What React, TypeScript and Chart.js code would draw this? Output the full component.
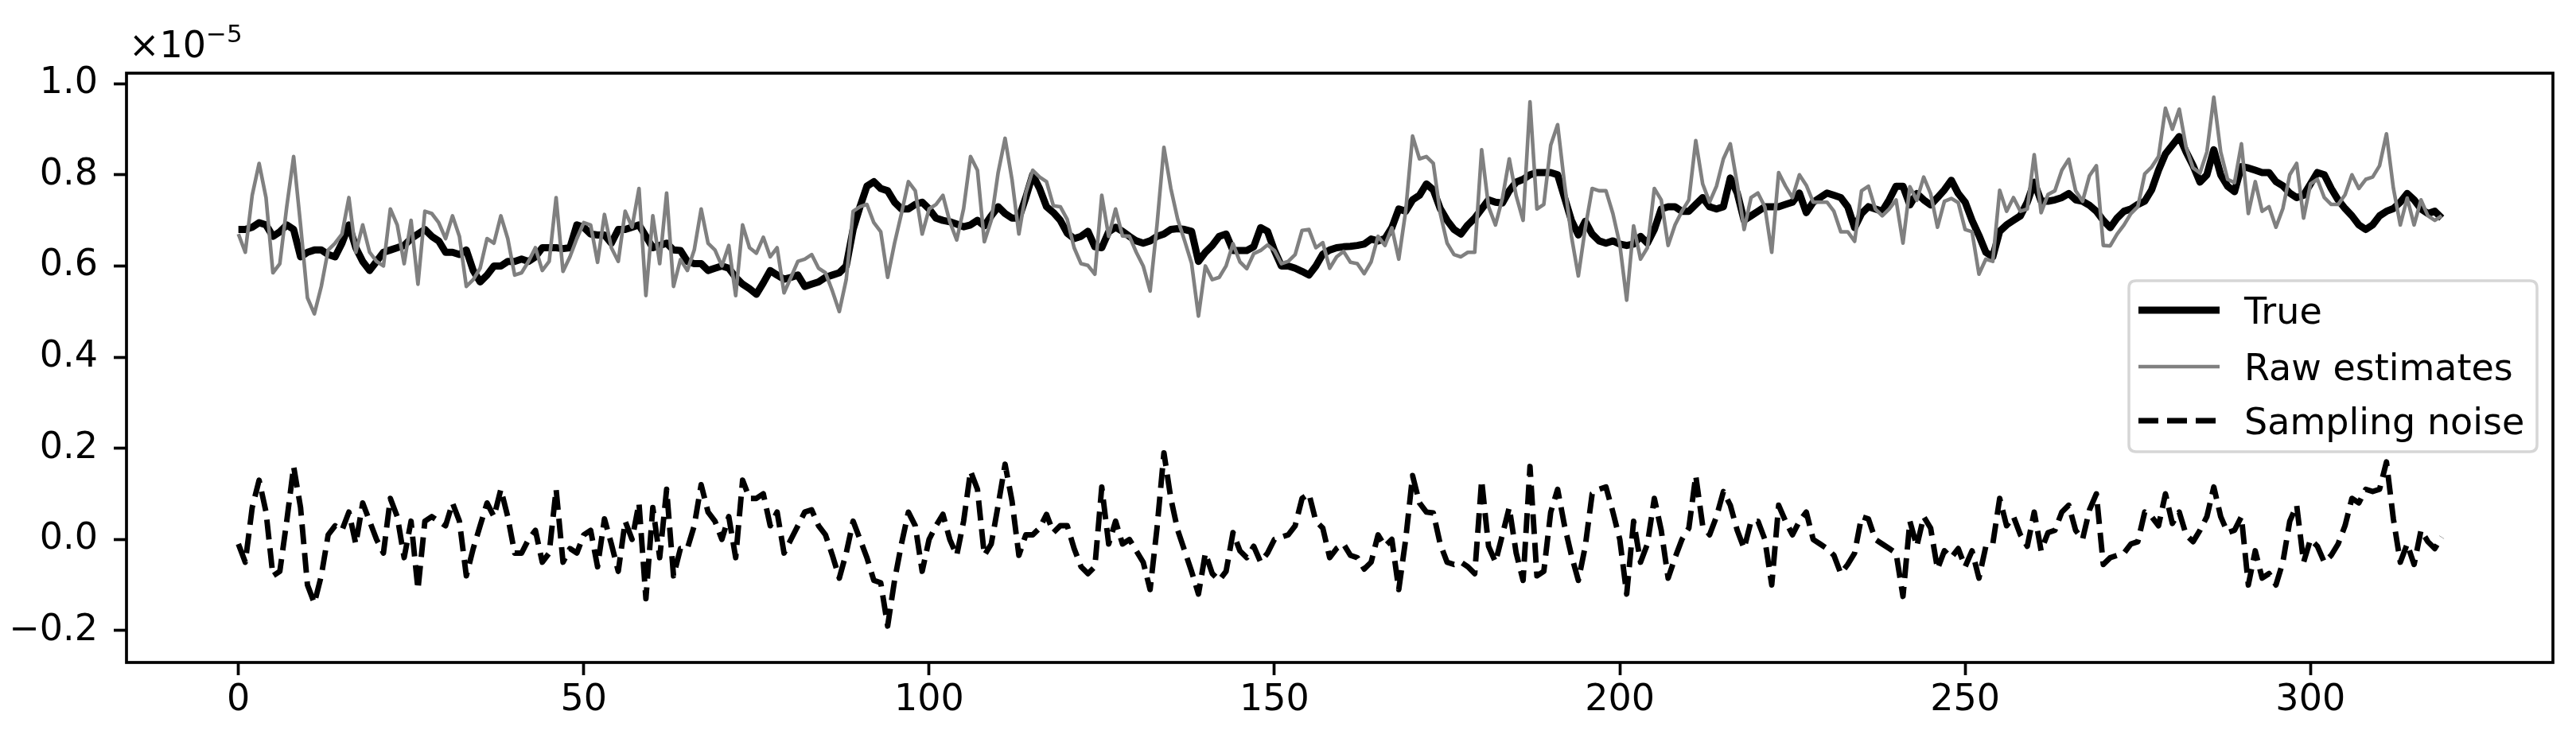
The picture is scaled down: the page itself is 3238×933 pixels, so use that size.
import React, { useEffect, useRef } from "react";
import { Chart, registerables } from "chart.js";

Chart.register(...registerables);

const W = 3238;
const H = 933;

// values in units of 1e-5
const trueVals = [
  0.68, 0.68, 0.685, 0.695, 0.69, 0.665, 0.675, 0.69, 0.68, 0.62,
  0.63, 0.635, 0.635, 0.625, 0.62, 0.65, 0.69, 0.64, 0.61, 0.59,
  0.61, 0.63, 0.635, 0.64, 0.645, 0.66, 0.67, 0.68, 0.665, 0.655,
  0.63, 0.63, 0.625, 0.635, 0.59, 0.565, 0.58, 0.6, 0.6, 0.61,
  0.61, 0.615, 0.61, 0.62, 0.64, 0.64, 0.64, 0.638, 0.64, 0.69,
  0.685, 0.67, 0.668, 0.668, 0.65, 0.68, 0.68, 0.685, 0.69, 0.665,
  0.64, 0.645, 0.65, 0.635, 0.634, 0.61, 0.605, 0.605, 0.59, 0.595,
  0.6, 0.595, 0.575, 0.56, 0.55, 0.538, 0.563, 0.59, 0.58, 0.571,
  0.575, 0.58, 0.555, 0.56, 0.565, 0.575, 0.58, 0.585, 0.6, 0.68,
  0.73, 0.775, 0.785, 0.77, 0.765, 0.74, 0.725, 0.725, 0.735, 0.74,
  0.725, 0.705, 0.7, 0.697, 0.692, 0.686, 0.69, 0.7, 0.688, 0.71,
  0.73, 0.715, 0.705, 0.705, 0.75, 0.8, 0.77, 0.73, 0.717, 0.7,
  0.672, 0.66, 0.665, 0.676, 0.642, 0.64, 0.675, 0.685, 0.676, 0.665,
  0.655, 0.65, 0.655, 0.665, 0.67, 0.68, 0.682, 0.68, 0.676, 0.61,
  0.63, 0.645, 0.665, 0.67, 0.634, 0.634, 0.634, 0.642, 0.684, 0.676,
  0.634, 0.6, 0.6, 0.595, 0.588, 0.58, 0.6, 0.626, 0.635, 0.64,
  0.642, 0.643, 0.645, 0.648, 0.659, 0.655, 0.66, 0.684, 0.725, 0.72,
  0.745, 0.755, 0.78, 0.767, 0.726, 0.7, 0.68, 0.67, 0.69, 0.705,
  0.725, 0.745, 0.74, 0.738, 0.765, 0.784, 0.79, 0.8, 0.805, 0.805,
  0.805, 0.8, 0.75, 0.7, 0.668, 0.698, 0.67, 0.655, 0.65, 0.655,
  0.648, 0.645, 0.648, 0.665, 0.65, 0.68, 0.725, 0.73, 0.73, 0.72,
  0.72, 0.735, 0.75, 0.73, 0.725, 0.73, 0.793, 0.76, 0.7, 0.71,
  0.72, 0.73, 0.73, 0.73, 0.735, 0.74, 0.76, 0.717, 0.74, 0.75,
  0.76, 0.755, 0.75, 0.73, 0.684, 0.715, 0.73, 0.725, 0.72, 0.745,
  0.775, 0.775, 0.734, 0.759, 0.745, 0.734, 0.75, 0.767, 0.788, 0.759,
  0.74, 0.7, 0.667, 0.63, 0.62, 0.676, 0.69, 0.7, 0.71, 0.74,
  0.784, 0.742, 0.742, 0.745, 0.75, 0.759, 0.745, 0.742, 0.733, 0.72,
  0.7, 0.684, 0.705, 0.72, 0.725, 0.735, 0.742, 0.767, 0.81, 0.846,
  0.865, 0.884, 0.85, 0.82, 0.784, 0.8, 0.855, 0.8, 0.775, 0.763,
  0.818, 0.815, 0.81, 0.805, 0.805, 0.785, 0.776, 0.76, 0.75, 0.755,
  0.78, 0.805, 0.8, 0.77, 0.745, 0.726, 0.71, 0.69, 0.68, 0.69,
  0.71, 0.72, 0.726, 0.74, 0.759, 0.745, 0.725, 0.715, 0.72, 0.705,
];

const rawVals = [
  0.67, 0.63, 0.755, 0.825, 0.75, 0.585, 0.605, 0.73, 0.84, 0.69,
  0.53, 0.495, 0.555, 0.635, 0.65, 0.67, 0.75, 0.63, 0.69, 0.63,
  0.61, 0.6, 0.725, 0.69, 0.605, 0.7, 0.56, 0.72, 0.715, 0.695,
  0.66, 0.71, 0.665, 0.555, 0.57, 0.595, 0.66, 0.65, 0.71, 0.66,
  0.58, 0.585, 0.61, 0.64, 0.59, 0.61, 0.75, 0.588, 0.62, 0.66,
  0.695, 0.69, 0.608, 0.713, 0.64, 0.61, 0.72, 0.685, 0.77, 0.535,
  0.71, 0.605, 0.76, 0.555, 0.614, 0.59, 0.635, 0.725, 0.65, 0.635,
  0.6, 0.645, 0.535, 0.69, 0.64, 0.628, 0.663, 0.62, 0.64, 0.541,
  0.575, 0.61, 0.615, 0.625, 0.595, 0.585, 0.545, 0.5, 0.57, 0.72,
  0.73, 0.735, 0.695, 0.675, 0.575, 0.65, 0.715, 0.785, 0.765, 0.67,
  0.725, 0.735, 0.755, 0.697, 0.657, 0.726, 0.84, 0.81, 0.653, 0.7,
  0.805, 0.88, 0.79, 0.67, 0.76, 0.81, 0.795, 0.785, 0.732, 0.73,
  0.702, 0.64, 0.605, 0.601, 0.582, 0.755, 0.665, 0.725, 0.666, 0.665,
  0.63, 0.6, 0.545, 0.69, 0.86, 0.77, 0.702, 0.655, 0.606, 0.49,
  0.6, 0.57, 0.575, 0.6, 0.649, 0.609, 0.594, 0.627, 0.634, 0.646,
  0.634, 0.605, 0.61, 0.625, 0.678, 0.68, 0.64, 0.651, 0.595, 0.62,
  0.632, 0.608, 0.605, 0.583, 0.609, 0.665, 0.645, 0.684, 0.615, 0.72,
  0.885, 0.835, 0.84, 0.825, 0.716, 0.65, 0.625, 0.62, 0.63, 0.63,
  0.855, 0.73, 0.69, 0.748, 0.835, 0.754, 0.7, 0.96, 0.725, 0.735,
  0.865, 0.91, 0.78, 0.665, 0.578, 0.683, 0.77, 0.765, 0.765, 0.715,
  0.648, 0.525, 0.688, 0.615, 0.64, 0.77, 0.745, 0.645, 0.69, 0.72,
  0.745, 0.875, 0.78, 0.74, 0.775, 0.835, 0.868, 0.78, 0.68, 0.75,
  0.76, 0.73, 0.63, 0.805, 0.775, 0.75, 0.8, 0.777, 0.74, 0.74,
  0.74, 0.72, 0.675, 0.675, 0.654, 0.765, 0.775, 0.725, 0.71, 0.725,
  0.745, 0.65, 0.774, 0.744, 0.795, 0.759, 0.685, 0.742, 0.748, 0.739,
  0.68, 0.675, 0.582, 0.615, 0.61, 0.766, 0.72, 0.75, 0.72, 0.725,
  0.844, 0.717, 0.757, 0.765, 0.81, 0.834, 0.765, 0.742, 0.798, 0.82,
  0.645, 0.644, 0.67, 0.69, 0.715, 0.73, 0.802, 0.817, 0.84, 0.946,
  0.9, 0.944, 0.86, 0.815, 0.804, 0.85, 0.97, 0.85, 0.79, 0.783,
  0.868, 0.715, 0.785, 0.72, 0.73, 0.685, 0.726, 0.8, 0.825, 0.705,
  0.78, 0.79, 0.75, 0.735, 0.735, 0.756, 0.8, 0.77, 0.79, 0.795,
  0.82, 0.89, 0.771, 0.69, 0.749, 0.69, 0.745, 0.71, 0.7, 0.71,
];

const noiseVals = [
  -0.01, -0.05, 0.07, 0.13, 0.06, -0.08, -0.07, 0.04, 0.16, 0.07,
  -0.1, -0.14, -0.08, 0.01, 0.03, 0.02, 0.06, -0.01, 0.08, 0.04,
  0.0, -0.03, 0.09, 0.05, -0.04, 0.04, -0.11, 0.04, 0.05, 0.04,
  0.03, 0.08, 0.04, -0.08, -0.02, 0.03, 0.08, 0.05, 0.11, 0.05,
  -0.03, -0.03, 0.0, 0.02, -0.05, -0.03, 0.11, -0.05, -0.02, -0.03,
  0.01, 0.02, -0.06, 0.045, -0.01, -0.07, 0.04, 0.0, 0.08, -0.13,
  0.07, -0.04, 0.11, -0.08, -0.02, -0.02, 0.03, 0.12, 0.06, 0.04,
  0.0, 0.05, -0.04, 0.13, 0.09, 0.09, 0.1, 0.03, 0.06, -0.03,
  0.0, 0.03, 0.06, 0.065, 0.03, 0.01, -0.035, -0.085, -0.03, 0.04,
  0.0, -0.04, -0.09, -0.095, -0.19, -0.09, -0.01, 0.06, 0.03, -0.07,
  0.0, 0.03, 0.055, 0.0, -0.035, 0.04, 0.15, 0.11, -0.035, -0.01,
  0.075, 0.165, 0.085, -0.035, 0.01, 0.01, 0.025, 0.055, 0.015, 0.03,
  0.03, -0.02, -0.06, -0.075, -0.06, 0.115, -0.01, 0.04, -0.01, 0.0,
  -0.025, -0.05, -0.11, 0.025, 0.19, 0.09, 0.02, -0.025, -0.07, -0.12,
  -0.03, -0.075, -0.09, -0.07, 0.015, -0.025, -0.04, -0.015, -0.05, -0.03,
  0.0, 0.005, 0.01, 0.03, 0.09, 0.1, 0.04, 0.025, -0.04, -0.02,
  -0.01, -0.035, -0.04, -0.065, -0.05, 0.01, -0.015, 0.0, -0.11, 0.0,
  0.14, 0.08, 0.06, 0.058, -0.01, -0.05, -0.055, -0.05, -0.06, -0.075,
  0.13, -0.015, -0.05, 0.01, 0.07, -0.03, -0.09, 0.16, -0.08, -0.07,
  0.06, 0.11, 0.03, -0.035, -0.09, -0.015, 0.1, 0.11, 0.115, 0.06,
  0.0, -0.12, 0.04, -0.05, -0.01, 0.09, 0.02, -0.085, -0.04, 0.0,
  0.025, 0.14, 0.03, 0.01, 0.05, 0.105, 0.075, 0.02, -0.02, 0.04,
  0.04, 0.0, -0.1, 0.075, 0.04, 0.01, 0.04, 0.06, 0.0, -0.01,
  -0.02, -0.035, -0.075, -0.055, -0.03, 0.05, 0.045, 0.0, -0.01, -0.02,
  -0.03, -0.125, 0.04, -0.015, 0.05, 0.025, -0.065, -0.025, -0.04, -0.02,
  -0.06, -0.025, -0.085, -0.015, -0.01, 0.09, 0.03, 0.05, 0.01, -0.015,
  0.06, -0.025, 0.015, 0.02, 0.06, 0.075, 0.02, 0.0, 0.065, 0.1,
  -0.055, -0.04, -0.035, -0.03, -0.01, -0.005, 0.06, 0.05, 0.03, 0.1,
  0.035, 0.06, 0.01, -0.005, 0.02, 0.05, 0.115, 0.05, 0.015, 0.02,
  0.05, -0.1, -0.025, -0.085, -0.075, -0.1, -0.05, 0.04, 0.075, -0.05,
  0.0, -0.015, -0.05, -0.035, -0.01, 0.03, 0.09, 0.08, 0.11, 0.105,
  0.11, 0.17, 0.045, -0.05, -0.01, -0.055, 0.02, -0.005, -0.02, 0.005,
];

const xTicks = [0, 50, 100, 150, 200, 250, 300];
const yTicks = [-0.2, 0.0, 0.2, 0.4, 0.6, 0.8, 1.0];
const seriesLabels = ["True", "Raw estimates", "Sampling noise"];
const offsetBase = "×10";
const offsetExp = "−5";

const FONT = "DejaVu Sans";
const TRUE_STYLE = { color: "#000000", width: 9 };
const RAW_STYLE = { color: "#808080", width: 4.6 };
const NOISE_STYLE = { color: "#000000", width: 6.9, dash: [25, 11] };

const toPoints = (vals: number[]) => vals.map((v, i) => ({ x: i, y: v }));

const decorPlugin = {
  id: "decor",
  afterDatasetsDraw(chart: any) {
    const { ctx, chartArea } = chart;
    ctx.save();
    ctx.strokeStyle = "#000";
    ctx.lineWidth = 3.7;
    ctx.strokeRect(chartArea.left, chartArea.top, chartArea.right - chartArea.left, chartArea.bottom - chartArea.top);
    ctx.restore();
  },
  afterDraw(chart: any) {
    const { ctx } = chart;
    ctx.save();
    // offset text
    ctx.fillStyle = "#000";
    ctx.textAlign = "left";
    ctx.textBaseline = "alphabetic";
    ctx.font = `46px '${FONT}'`;
    ctx.fillText(offsetBase, 162, 72);
    ctx.font = `31px '${FONT}'`;
    ctx.fillText(offsetExp, 259, 53);

    // legend
    const bx = 2676, by = 353, bw = 513, bh = 215, r = 9;
    ctx.beginPath();
    ctx.moveTo(bx + r, by);
    ctx.lineTo(bx + bw - r, by);
    ctx.quadraticCurveTo(bx + bw, by, bx + bw, by + r);
    ctx.lineTo(bx + bw, by + bh - r);
    ctx.quadraticCurveTo(bx + bw, by + bh, bx + bw - r, by + bh);
    ctx.lineTo(bx + r, by + bh);
    ctx.quadraticCurveTo(bx, by + bh, bx, by + bh - r);
    ctx.lineTo(bx, by + r);
    ctx.quadraticCurveTo(bx, by, bx + r, by);
    ctx.closePath();
    ctx.fillStyle = "rgba(255,255,255,0.8)";
    ctx.fill();
    ctx.strokeStyle = "rgba(204,204,204,0.8)";
    ctx.lineWidth = 3.5;
    ctx.stroke();

    const styles = [TRUE_STYLE, RAW_STYLE, NOISE_STYLE];
    const rows = [390, 461, 529];
    styles.forEach((s: any, k) => {
      ctx.beginPath();
      ctx.strokeStyle = s.color;
      ctx.lineWidth = s.width;
      ctx.lineCap = "butt";
      ctx.setLineDash(s.dash || []);
      ctx.moveTo(2688, rows[k]);
      ctx.lineTo(2790, rows[k]);
      ctx.stroke();
      ctx.setLineDash([]);
      ctx.fillStyle = "#000";
      ctx.font = `46px '${FONT}'`;
      ctx.textBaseline = "alphabetic";
      ctx.fillText(seriesLabels[k], 2821, rows[k] + 17);
    });
    ctx.restore();
  },
};

export default function App() {
  const ref = useRef<HTMLCanvasElement | null>(null);

  useEffect(() => {
    if (!ref.current) return;
    const tickFont = { family: FONT, size: 46 };
    const chart = new Chart(ref.current, {
      type: "line",
      data: {
        datasets: [
          {
            label: seriesLabels[0],
            data: toPoints(trueVals),
            borderColor: TRUE_STYLE.color,
            borderWidth: TRUE_STYLE.width,
            order: 2,
          },
          {
            label: seriesLabels[1],
            data: toPoints(rawVals),
            borderColor: RAW_STYLE.color,
            borderWidth: RAW_STYLE.width,
            order: 1,
          },
          {
            label: seriesLabels[2],
            data: toPoints(noiseVals),
            borderColor: NOISE_STYLE.color,
            borderWidth: NOISE_STYLE.width,
            borderDash: NOISE_STYLE.dash,
            order: 0,
          },
        ] as any,
      },
      options: {
        responsive: false,
        animation: false,
        devicePixelRatio: 1,
        layout: { padding: { left: 0, top: 92, right: 29, bottom: 0 } },
        elements: {
          point: { radius: 0 },
          line: { tension: 0, borderJoinStyle: "round", borderCapStyle: "butt", fill: false },
        },
        plugins: { legend: { display: false }, tooltip: { enabled: false } },
        scales: {
          x: {
            type: "linear",
            min: -16.2,
            max: 335.1,
            afterFit: (a: any) => {
              a.height = 100;
            },
            afterBuildTicks: (a: any) => {
              a.ticks = xTicks.map((v) => ({ value: v }));
            },
            grid: { drawOnChartArea: false, drawTicks: true, tickLength: 16, tickWidth: 3.7, tickColor: "#000" },
            border: { display: false },
            ticks: {
              font: tickFont,
              color: "#000",
              padding: 4,
              maxRotation: 0,
              autoSkip: false,
              callback: (v: any) => String(v),
            },
          },
          y: {
            type: "linear",
            min: -0.27,
            max: 1.023,
            afterFit: (a: any) => {
              a.width = 159;
            },
            afterBuildTicks: (a: any) => {
              a.ticks = yTicks.map((v) => ({ value: v }));
            },
            grid: { drawOnChartArea: false, drawTicks: true, tickLength: 16, tickWidth: 3.7, tickColor: "#000" },
            border: { display: false },
            ticks: {
              font: tickFont,
              color: "#000",
              padding: 20,
              autoSkip: false,
              callback: (v: any) => Number(v).toFixed(1).replace("-", "−"),
            },
          },
        },
      } as any,
      plugins: [decorPlugin],
    });
    return () => chart.destroy();
  }, []);

  return (
    <div style={{ position: "fixed", left: 0, top: 0, width: W, height: H, background: "#fff" }}>
      <canvas ref={ref} width={W} height={H} style={{ display: "block", width: W, height: H }} />
    </div>
  );
}
